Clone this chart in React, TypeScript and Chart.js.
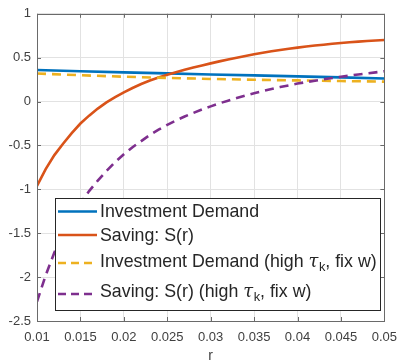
import React, { useEffect, useRef } from "react";
import { Chart, registerables } from "chart.js";

Chart.register(...registerables);

// Interest rate grid (fine) for the saving curves
const rValues = [
  0.010, 0.011, 0.012, 0.013, 0.014, 0.015, 0.016, 0.017, 0.018, 0.019,
  0.020, 0.021, 0.022, 0.023, 0.024, 0.025, 0.026, 0.027, 0.028, 0.029,
  0.030, 0.031, 0.032, 0.033, 0.034, 0.035, 0.036, 0.037, 0.038, 0.039,
  0.040, 0.041, 0.042, 0.043, 0.044, 0.045, 0.046, 0.047, 0.048, 0.049,
  0.050,
];

const savingValues = [
  -0.96, -0.77, -0.61, -0.48, -0.36, -0.25, -0.16, -0.08, -0.01, 0.05,
  0.105, 0.155, 0.2, 0.24, 0.275, 0.305, 0.335, 0.362, 0.388, 0.412,
  0.435, 0.458, 0.48, 0.5, 0.52, 0.54, 0.557, 0.573, 0.588, 0.602,
  0.615, 0.627, 0.638, 0.648, 0.658, 0.667, 0.675, 0.683, 0.69, 0.696,
  0.702,
];

const savingHighTauValues = [
  -2.28, -1.98, -1.72, -1.5, -1.32, -1.16, -1.02, -0.9, -0.79, -0.69,
  -0.6, -0.52, -0.45, -0.38, -0.32, -0.265, -0.215, -0.17, -0.13, -0.09,
  -0.055, -0.02, 0.01, 0.04, 0.068, 0.095, 0.12, 0.143, 0.165, 0.185,
  0.205, 0.222, 0.238, 0.254, 0.268, 0.282, 0.296, 0.309, 0.321, 0.333,
  0.345,
];

// Coarse grid for the (nearly flat) investment demand curves
const rCoarse = [0.01, 0.015, 0.02, 0.025, 0.03, 0.035, 0.04, 0.045, 0.05];
const investmentValues = [0.36, 0.346, 0.333, 0.321, 0.309, 0.298, 0.287, 0.276, 0.263];
const investmentHighTauValues = [0.32, 0.3, 0.283, 0.27, 0.258, 0.249, 0.241, 0.234, 0.227];

const xTickValues = [0.01, 0.015, 0.02, 0.025, 0.03, 0.035, 0.04, 0.045, 0.05];
const xTickLabels = ["0.01", "0.015", "0.02", "0.025", "0.03", "0.035", "0.04", "0.045", "0.05"];
const yTickValues = [-2.5, -2, -1.5, -1, -0.5, 0, 0.5, 1];
const yTickLabels = ["-2.5", "-2", "-1.5", "-1", "-0.5", "0", "0.5", "1"];

const xAxisTitle = "r";

// Legend entries: text before tau, whether tau_k appears, text after
const legendEntries = [
  { text: "Investment Demand", tau: false, after: "" },
  { text: "Saving: S(r)", tau: false, after: "" },
  { text: "Investment Demand (high ", tau: true, after: ", fix w)" },
  { text: "Saving: S(r) (high ", tau: true, after: ", fix w)" },
];

const COLORS = ["#0072BD", "#D95319", "#EDB120", "#7E2F8E"];
const DASHES: number[][] = [[], [], [9, 6], [9, 6]];
const AXIS_COLOR = "#6a6a6a";
const TEXT_COLOR = "#404040";
const FONT_FAMILY = "'Liberation Sans', Arial, Helvetica, sans-serif";

const frameAndLegend = {
  id: "frameAndLegend",
  afterDraw(chart: any) {
    const { ctx, chartArea } = chart;
    const { left, right, top, bottom } = chartArea;
    const xs = chart.scales.x;
    const ys = chart.scales.y;
    ctx.save();
    // inward tick marks
    ctx.strokeStyle = AXIS_COLOR;
    ctx.lineWidth = 1;
    const tl = 4;
    ctx.beginPath();
    xTickValues.forEach((v) => {
      const px = Math.round(xs.getPixelForValue(v)) + 0.5;
      ctx.moveTo(px, bottom);
      ctx.lineTo(px, bottom - tl);
      ctx.moveTo(px, top);
      ctx.lineTo(px, top + tl);
    });
    yTickValues.forEach((v) => {
      const py = Math.round(ys.getPixelForValue(v)) + 0.5;
      ctx.moveTo(left, py);
      ctx.lineTo(left + tl, py);
      ctx.moveTo(right, py);
      ctx.lineTo(right - tl, py);
    });
    ctx.stroke();
    // box
    ctx.strokeRect(Math.round(left) + 0.5, Math.round(top) + 0.5, Math.round(right - left), Math.round(bottom - top));

    // legend
    const lx = 55, ly = 198, lw = 325, lh = 112;
    ctx.fillStyle = "#ffffff";
    ctx.fillRect(lx, ly, lw, lh);
    ctx.strokeStyle = "#262626";
    ctx.strokeRect(lx + 0.5, ly + 0.5, lw, lh);

    const lineY = [211.5, 235, 263, 294];
    const textY = [212.5, 236, 262, 292];
    const fontSize = 17.8;
    legendEntries.forEach((e, i) => {
      const ds = chart.data.datasets[i];
      ctx.save();
      ctx.strokeStyle = ds.borderColor;
      ctx.lineWidth = 2.6;
      ctx.setLineDash(DASHES[i].length ? [8, 5] : []);
      ctx.beginPath();
      ctx.moveTo(58, lineY[i]);
      ctx.lineTo(97, lineY[i]);
      ctx.stroke();
      ctx.restore();

      ctx.fillStyle = "#262626";
      ctx.textBaseline = "middle";
      ctx.textAlign = "left";
      ctx.font = `${fontSize}px ${FONT_FAMILY}`;
      let x = 100;
      ctx.fillText(e.text, x, textY[i]);
      x += ctx.measureText(e.text).width;
      if (e.tau) {
        ctx.font = `italic ${fontSize}px 'DejaVu Serif', 'Liberation Serif', serif`;
        ctx.fillText("τ", x, textY[i]);
        x += ctx.measureText("τ").width + 0.5;
        ctx.font = `${fontSize * 0.72}px ${FONT_FAMILY}`;
        ctx.fillText("k", x, textY[i] + 5);
        x += ctx.measureText("k").width;
        ctx.font = `${fontSize}px ${FONT_FAMILY}`;
        ctx.fillText(e.after, x, textY[i]);
      }
    });
    ctx.restore();
  },
};

export default function App() {
  const canvasRef = useRef<HTMLCanvasElement | null>(null);

  useEffect(() => {
    if (!canvasRef.current) return;
    const legendNames = [
      "Investment Demand",
      "Saving: S(r)",
      "Investment Demand (high τk, fix w)",
      "Saving: S(r) (high τk, fix w)",
    ];
    const series = [
      { xs: rCoarse, ys: investmentValues },
      { xs: rValues, ys: savingValues },
      { xs: rCoarse, ys: investmentHighTauValues },
      { xs: rValues, ys: savingHighTauValues },
    ];
    const chart = new Chart(canvasRef.current, {
      type: "line",
      data: {
        datasets: series.map((s, i) => ({
          label: legendNames[i],
          data: s.xs.map((x, j) => ({ x, y: s.ys[j] })),
          borderColor: COLORS[i],
          backgroundColor: COLORS[i],
          borderWidth: 2.6,
          borderDash: DASHES[i],
          pointRadius: 0,
          tension: 0,
          fill: false,
          order: 4 - i,
        })),
      },
      options: {
        animation: false,
        responsive: true,
        maintainAspectRatio: false,
        layout: { padding: { left: 0, top: 13, right: 15, bottom: 0 } },
        plugins: {
          legend: { display: false },
          tooltip: { enabled: false },
        },
        scales: {
          x: {
            type: "linear",
            min: 0.01,
            max: 0.05,
            afterBuildTicks: (s: any) => {
              s.ticks = xTickValues.map((v) => ({ value: v }));
            },
            afterFit: (s: any) => {
              s.height = 39;
            },
            ticks: {
              callback: (_v: any, i: number) => xTickLabels[i],
              color: TEXT_COLOR,
              font: { family: FONT_FAMILY, size: 13 },
              padding: 9,
              maxRotation: 0,
              autoSkip: false,
            },
            grid: { color: "#e2e2e2", drawTicks: false, lineWidth: 1 },
            border: { display: false },
            title: {
              display: true,
              text: xAxisTitle,
              color: TEXT_COLOR,
              font: { family: FONT_FAMILY, size: 14, lineHeight: 1 },
              padding: { top: 0, bottom: -3 },
            },
          },
          y: {
            type: "linear",
            min: -2.5,
            max: 1,
            afterBuildTicks: (s: any) => {
              s.ticks = yTickValues.map((v) => ({ value: v }));
            },
            afterFit: (s: any) => {
              s.width = 37;
            },
            ticks: {
              callback: (_v: any, i: number) => yTickLabels[i],
              color: TEXT_COLOR,
              font: { family: FONT_FAMILY, size: 13 },
              padding: 6,
              autoSkip: false,
            },
            grid: { color: "#e2e2e2", drawTicks: false, lineWidth: 1 },
            border: { display: false },
          },
        },
      },
      plugins: [frameAndLegend],
    });
    return () => chart.destroy();
  }, []);

  return (
    <div style={{ position: "fixed", left: 0, top: 0, width: 406, height: 360, background: "#fff" }}>
      <canvas ref={canvasRef} />
    </div>
  );
}
